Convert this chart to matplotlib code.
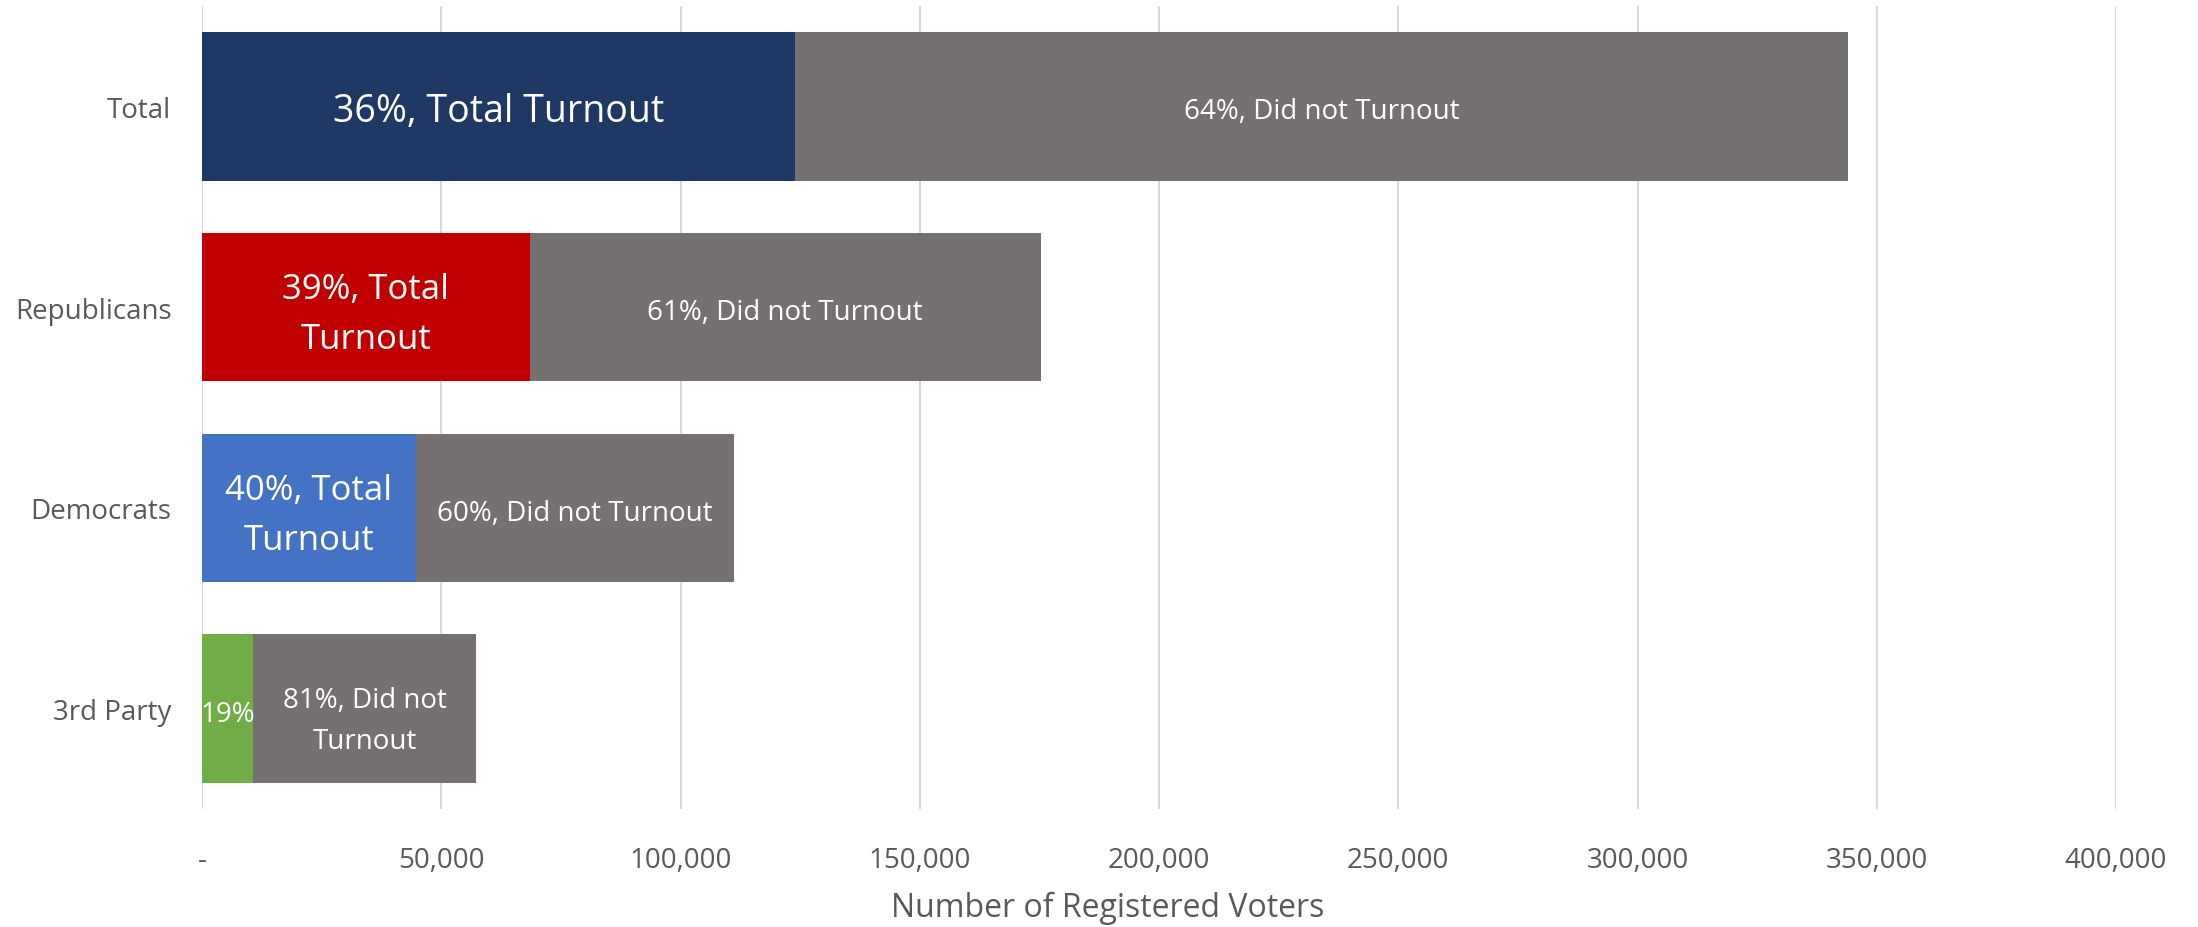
import matplotlib.pyplot as plt
from matplotlib.ticker import FuncFormatter

plt.rcParams['font.family'] = ['Open Sans', 'DejaVu Sans']

categories = ['Total', 'Republicans', 'Democrats', '3rd Party']
turnout = [124000, 68500, 44700, 10700]
did_not = [220000, 106800, 66500, 46500]
turnout_labels = ['36%, Total Turnout', '39%, Total\nTurnout', '40%, Total\nTurnout', '19%']
did_not_labels = ['64%, Did not Turnout', '61%, Did not Turnout', '60%, Did not Turnout', '81%, Did not\nTurnout']
turnout_colors = ['#203864', '#C00000', '#4472C4', '#70AD47']
gray = '#757171'

fig = plt.figure(figsize=(21.98, 9.28), dpi=100)
ax = fig.add_axes([202 / 2198, 118 / 928, 1914 / 2198, 803 / 928])

y = range(len(categories))
ax.barh(y, turnout, height=0.74, color=turnout_colors, zorder=2)
ax.barh(y, did_not, left=turnout, height=0.74, color=gray, zorder=2)

for i in y:
    fs = 27 if i == 0 else 25
    if i == 3:
        fs = 20
    lab = turnout_labels[i]
    off = 0.035 if '\n' in lab else 0.025
    ax.text(turnout[i] / 2, i + off, lab, ha='center', va='center',
            color='white', fontsize=fs, linespacing=1.6, zorder=3)
    lab = did_not_labels[i]
    off = 0.06 if '\n' in lab else 0.025
    ax.text(turnout[i] + did_not[i] / 2, i + off, lab, ha='center', va='center',
            color='white', fontsize=20, linespacing=1.6, zorder=3)

ax.set_xlim(0, 400000)
ax.set_ylim(3.5, -0.5)
ax.set_xticks(range(0, 400001, 50000))
ax.xaxis.set_major_formatter(FuncFormatter(lambda v, p: '-' if v == 0 else f'{int(v):,}'))
ax.set_yticks(list(y))
ax.set_yticklabels(categories)
ax.tick_params(length=0, labelsize=20, colors='#595959')
ax.tick_params(axis='x', pad=27)
ax.tick_params(axis='y', pad=22)
ax.grid(axis='x', color='#D9D9D9', linewidth=1.5, zorder=0)
for s in ax.spines.values():
    s.set_visible(False)
ax.set_xlabel('Number of Registered Voters', fontsize=23, color='#595959', va='center')
ax.xaxis.set_label_coords(0.473, -0.122)

fig.savefig('out.png', dpi=100)
